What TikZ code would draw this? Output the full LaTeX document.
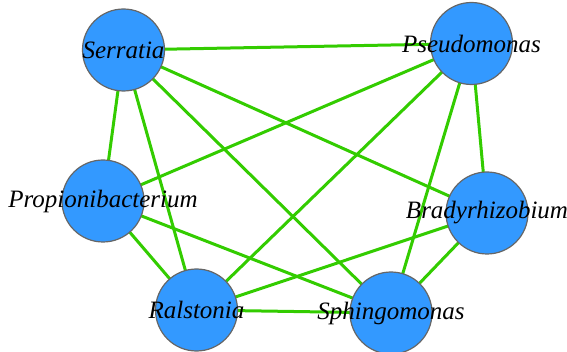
\documentclass[tikz,border=0pt]{standalone}
\usepackage{fontspec}
\setmainfont{Liberation Serif}
\usepackage{tikz}
\usetikzlibrary{backgrounds}
\definecolor{nodeblue}{HTML}{3399FF}
\definecolor{nodeedge}{HTML}{666666}
\definecolor{linkgreen}{HTML}{33CC00}
\tikzstyle{species} = [circle, minimum size=82pt, inner sep=0pt, fill=nodeblue, draw=nodeedge, line width=1.2pt, label distance=0pt]
\tikzstyle{link} = [line width=3pt, draw=linkgreen]
\tikzset{every label/.style={font=\fontsize{25}{30}\selectfont\itshape, inner sep=0pt}}

\begin{document}
\begin{tikzpicture}[x=1pt, y=-1pt]
    \useasboundingbox (0,0) rectangle (567,352);
    \clip (0,0) rectangle (567,352);
    % Nodes
    \node[species, label=center:Serratia] (serratia) at (123.5,50) {};
    \node[species, label=center:Pseudomonas] (pseudo) at (471.5,43.5) {};
    \node[species, label=center:Propionibacterium] (propioni) at (103,201) {};
    \node[species, label=center:Bradyrhizobium] (bradyrhizo) at (487,213) {};
    \node[species, label=center:Ralstonia] (ralstonia) at (196.5,310) {};
    \node[species, label=center:Sphingomonas] (sphingo) at (391,313) {};

    % Connections
    \begin{pgfonlayer}{background}
    \draw[link] (serratia.center) -- (pseudo.center);
    \draw[link] (serratia.center) -- (propioni.center);
    \draw[link] (serratia.center) -- (ralstonia.center);
    \draw[link] (serratia.center) -- (sphingo.center);
    \draw[link] (serratia.center) -- (bradyrhizo.center);
    \draw[link] (pseudo.center) -- (propioni.center);
    \draw[link] (pseudo.center) -- (ralstonia.center);
    \draw[link] (pseudo.center) -- (sphingo.center);
    \draw[link] (pseudo.center) -- (bradyrhizo.center);
    \draw[link] (propioni.center) -- (ralstonia.center);
    \draw[link] (propioni.center) -- (sphingo.center);
    \draw[link] (ralstonia.center) -- (sphingo.center);
    \draw[link] (ralstonia.center) -- (bradyrhizo.center);
    \draw[link] (sphingo.center) -- (bradyrhizo.center);
    \end{pgfonlayer}
\end{tikzpicture}
\end{document}
